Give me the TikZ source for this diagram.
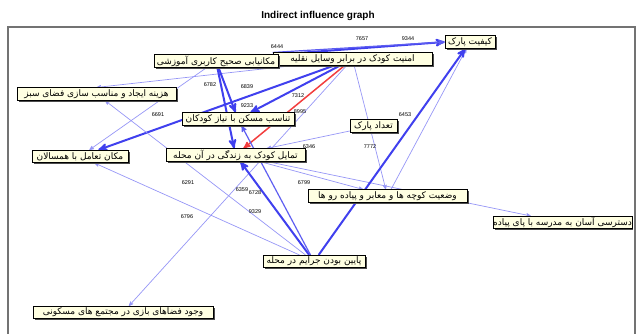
\documentclass[tikz,border=0pt]{standalone}
\usepackage{fontspec}
\setsansfont{Liberation Sans}
\newfontfamily\fafont[Script=Arabic]{DejaVu Sans}
\TeXXeTstate=1
\usetikzlibrary{%
  arrows,%
  shadows,%
  backgrounds,%
  positioning%
}

\definecolor{factorfill}{RGB}{255,255,226}
\definecolor{linkblue}{RGB}{64,64,238}
\definecolor{linkred}{RGB}{242,62,62}

\newcommand{\fa}[1]{{\fafont\beginR #1\endR}}

\begin{document}
\begin{tikzpicture}
[x=1pt, y=-1pt, >=stealth',
factor/.style={rectangle, draw=black, line width=0.6pt, fill=factorfill, inner sep=0pt, minimum height=12.5pt, font=\fontsize{9}{10}\selectfont, drop shadow={shadow xshift=1.6pt, shadow yshift=-1.6pt, fill=black!70, opacity=1}},
strong/.style={->, draw=linkblue, line width=2pt},
medium/.style={->, draw=linkblue!85, line width=1.2pt},
weak/.style={->, draw=linkblue!55, line width=0.7pt},
critical/.style={->, draw=linkred, line width=1.5pt},
weight/.style={font=\sffamily\fontsize{5.5}{6}\selectfont, inner sep=0pt}]

\useasboundingbox (0,0) rectangle (638,334);
\draw[black!55, line width=1.4pt] (8,334) -- (8,27) -- (635,27) -- (635,334);
\node[font=\sffamily\bfseries\fontsize{10}{12}\selectfont] (title) at (318,16) {Indirect influence graph};

\node[factor, minimum width=50pt] (park) at (470,42) {\fa{کیفیت پارک}};
\node[factor, minimum width=159pt] (safety) at (352.5,59) {\fa{امنیت کودک در برابر وسایل نقلیه}};
\node[factor, minimum width=124pt] (school) at (216,61) {\fa{مکانیابی صحیح کاربری آموزشی}};
\node[factor, minimum width=159pt] (green) at (96.5,94) {\fa{هزینه ایجاد و مناسب سازی فضای سبز}};
\node[factor, minimum width=112pt] (housing) at (238,119) {\fa{تناسب مسکن با نیاز کودکان}};
\node[factor, minimum width=47pt] (parks) at (373.5,126) {\fa{تعداد پارک}};
\node[factor, minimum width=96pt] (peers) at (80,156.5) {\fa{مکان تعامل با همسالان}};
\node[factor, minimum width=139pt] (desire) at (235.5,155) {\fa{تمایل کودک به زندگی در آن محله}};
\node[factor, minimum width=159pt] (streets) at (387.5,196) {\fa{وضعیت کوچه ها و معابر و پیاده رو ها}};
\node[factor, minimum width=137pt] (access) at (562.5,222.5) {\fa{دسترسی آسان به مدرسه با پای پیاده}};
\node[factor, minimum width=102pt] (crime) at (314,261.5) {\fa{پایین بودن جرایم در محله}};
\node[factor, minimum width=180pt] (play) at (123,312.5) {\fa{وجود فضاهای بازی در مجتمع های مسکونی}};

% links, behind the factors
\begin{scope}[on background layer]
\draw[strong] (school.north east) -- (park.west);
\draw[medium] (safety.north west) -- (park.west);
\draw[strong] (safety) -- (housing);
\draw[critical] (safety) -- (desire);
\draw[strong] (safety) -- (peers);
\draw[weak] (safety) -- (play);
\draw[weak] (safety) -- (green.north);
\draw[weak] (safety) -- (streets);
\draw[strong] (school) -- (housing);
\draw[strong] (school) -- (desire);
\draw[weak] (school) -- (peers);
\draw[weak] (parks) -- (desire);
\draw[weak] (desire) -- (streets);
\draw[weak] (desire) -- (access);
\draw[weak] (streets) -- (park);
\draw[strong] (crime) -- (park);
\draw[strong] (crime) -- (desire);
\draw[medium] (crime) -- (housing);
\draw[weak] (crime) -- (peers);
\draw[weak] (crime) -- (green);
\end{scope}

\node[weight] (w6444) at (277,47) {6444};
\node[weight] (w7657) at (362,39) {7657};
\node[weight] (w9344) at (408,39) {9344};
\node[weight] (w6782) at (210,85) {6782};
\node[weight] (w6839) at (247,87) {6839};
\node[weight] (w9233) at (247,106) {9233};
\node[weight] (w7312) at (298,96) {7312};
\node[weight] (w8995) at (300,112) {8995};
\node[weight] (w6691) at (158,115) {6691};
\node[weight] (w6453) at (405,115) {6453};
\node[weight] (w6346) at (309,147) {6346};
\node[weight] (w7772) at (370,147) {7772};
\node[weight] (w6291) at (188,183) {6291};
\node[weight] (w6359) at (242,190) {6359};
\node[weight] (w6728) at (255,193) {6728};
\node[weight] (w6799) at (304,183) {6799};
\node[weight] (w6796) at (187,217) {6796};
\node[weight] (w9329) at (255,212) {9329};
\end{tikzpicture}
\end{document}
